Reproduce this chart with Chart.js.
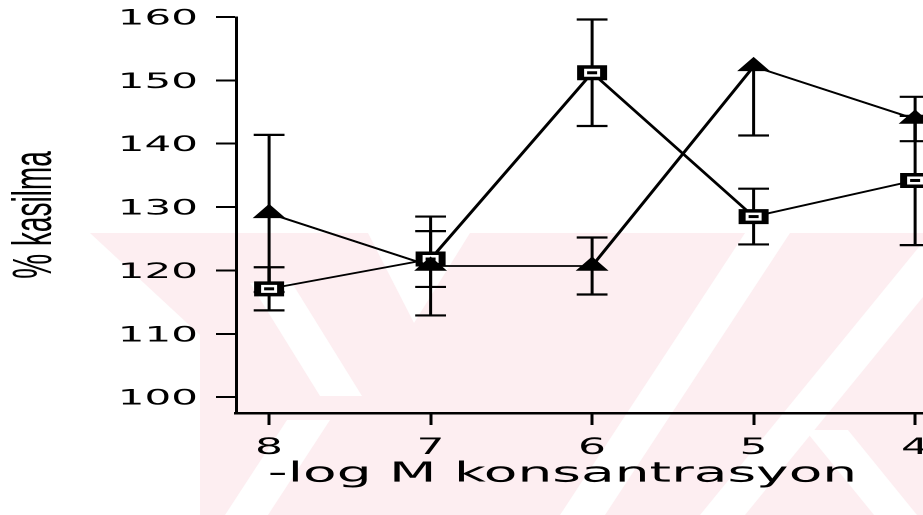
<!DOCTYPE html>
<html>
<head>
<meta charset="utf-8">
<title>% kasilma / -log M konsantrasyon</title>
<script src="https://cdn.jsdelivr.net/npm/chart.js@4.4.1/dist/chart.umd.min.js"></script>
<style>
  html, body { margin: 0; padding: 0; background: #fff; overflow: hidden; width: 923px; height: 515px; }
  /* the plot is laid out at half width and stretched 2x horizontally, like the printed figure */
  #wrap { position: absolute; left: 0; top: 0; width: 462px; height: 515px; transform: scaleX(2); transform-origin: 0 0; }
</style>
</head>
<body>
<div id="wrap"><canvas id="c" width="462" height="515"></canvas></div>
<script>
// -log M concentration on the x axis (read right to left)
const concentrations = [8, 7, 6, 5, 4];
const xTickValues = [8, 7, 6, 5, 4];
const yTickValues = [100, 110, 120, 130, 140, 150, 160];

// triangle series: mean % contraction with error bar lengths
const triangleMeans   = [129.0, 120.7, 120.7, 152.2, 143.9];
const triangleErrUp   = [12.4, 7.8, 4.5, null, 3.5];
const triangleErrDown = [12.4, 7.8, 4.5, 10.9, 3.5];

// square series
const squareMeans   = [117.1, 121.8, 151.2, 128.5, 134.2];
const squareErrUp   = [3.4, 4.4, 8.4, 4.4, 10.2];
const squareErrDown = [3.4, 4.4, 8.4, 4.4, 10.2];

const STRETCH = 2;

// faint stamp in the lower half of the page (page pixels)
const stampPink = [
  [[200,233],[923,233],[923,515],[200,515]],
  [[90,233],[200,233],[200,335]]
];
const stampGaps = [
  [[250,283],[292,283],[362,396],[320,396]],
  [[368,233],[470,233],[414,323]],
  [[225,515],[268,515],[330,420],[287,420]],
  [[560,515],[605,515],[790,233],[745,233]],
  [[700,515],[745,515],[923,297],[923,242]],
  [[805,430],[848,430],[917,515],[874,515]]
];

function poly(ctx, pts) {
  ctx.beginPath();
  pts.forEach(([px, py], i) => i ? ctx.lineTo(px / STRETCH, py) : ctx.moveTo(px / STRETCH, py));
  ctx.closePath();
  ctx.fill();
}

const paper = {
  id: 'paper',
  beforeDraw(chart) {
    const ctx = chart.ctx;
    ctx.save();
    ctx.fillStyle = '#ffffff';
    ctx.fillRect(0, 0, chart.width, chart.height);
    ctx.fillStyle = '#fdeef1';
    stampPink.forEach(p => poly(ctx, p));
    ctx.fillStyle = '#ffffff';
    stampGaps.forEach(p => poly(ctx, p));
    ctx.restore();
  }
};

const errorBars = {
  id: 'errorBars',
  beforeDatasetsDraw(chart) {
    const {ctx, scales: {x, y}} = chart;
    const capHalf = 7.7;
    ctx.save();
    ctx.strokeStyle = '#000';
    ctx.lineCap = 'butt';
    chart.data.datasets.forEach(ds => {
      ds.data.forEach((pt, i) => {
        const px = x.getPixelForValue(pt.x);
        const up = ds.errUp[i];
        const down = ds.errDown[i];
        const yTop = y.getPixelForValue(up == null ? pt.y : pt.y + up);
        const yBot = y.getPixelForValue(down == null ? pt.y : pt.y - down);
        ctx.lineWidth = 1.5;
        ctx.beginPath();
        ctx.moveTo(px, yTop);
        ctx.lineTo(px, yBot);
        ctx.stroke();
        ctx.lineWidth = 2.2;
        ctx.beginPath();
        if (up != null) { ctx.moveTo(px - capHalf, yTop); ctx.lineTo(px + capHalf, yTop); }
        if (down != null) { ctx.moveTo(px - capHalf, yBot); ctx.lineTo(px + capHalf, yBot); }
        ctx.stroke();
      });
    });
    ctx.restore();
  },
  // small bar inside each open square marker
  afterDatasetsDraw(chart) {
    const ctx = chart.ctx;
    ctx.save();
    ctx.fillStyle = '#000';
    chart.data.datasets.forEach((ds, di) => {
      if (ds.pointStyle !== 'rect') return;
      chart.getDatasetMeta(di).data.forEach(el => {
        ctx.fillRect(el.x - 2.5, el.y - 1.5, 5, 3);
      });
    });
    ctx.restore();
  }
};

const toPoints = vals => concentrations.map((c, i) => ({x: c, y: vals[i]}));

new Chart(document.getElementById('c'), {
  type: 'line',
  data: {
    datasets: [
      {
        label: 'Seri 1',
        data: toPoints(triangleMeans),
        errUp: triangleErrUp,
        errDown: triangleErrDown,
        borderColor: '#000',
        borderWidth: 1.8,
        pointStyle: 'triangle',
        pointRadius: 8.5,
        pointBackgroundColor: '#000',
        pointBorderColor: '#000',
        pointBorderWidth: 1,
        tension: 0,
        fill: false
      },
      {
        label: 'Seri 2',
        data: toPoints(squareMeans),
        errUp: squareErrUp,
        errDown: squareErrDown,
        borderColor: '#000',
        borderWidth: 1.8,
        pointStyle: 'rect',
        pointRadius: 8.13,
        pointBackgroundColor: '#fff',
        pointBorderColor: '#000',
        pointBorderWidth: 3.5,
        tension: 0,
        fill: false
      }
    ]
  },
  options: {
    responsive: false,
    devicePixelRatio: 2,
    animation: false,
    layout: { autoPadding: false, padding: { top: 17, left: 0, right: 0, bottom: 0 } },
    plugins: { legend: { display: false }, tooltip: { enabled: false } },
    scales: {
      x: {
        type: 'linear',
        reverse: true,
        min: 3.945,
        max: 8.205,
        afterBuildTicks: s => { s.ticks = xTickValues.map(v => ({value: v})); },
        afterFit: s => { s.height = 102; s.paddingLeft = 0; s.paddingRight = 0; },
        ticks: {
          color: '#000',
          font: { family: 'DejaVu Sans', size: 22 },
          padding: 10,
          maxRotation: 0,
          autoSkip: false,
          callback: v => String(v)
        },
        grid: { drawOnChartArea: false, drawTicks: true, tickLength: 12, tickWidth: 1.5, tickColor: '#000' },
        border: { display: true, color: '#000', width: 2.5 },
        title: {
          display: true,
          // two trailing spaces shift the centred title slightly left
          text: '-log M konsantrasyon  ',
          color: '#000',
          font: { family: 'DejaVu Sans', size: 27.5 },
          padding: { top: 0, bottom: 24 }
        }
      },
      y: {
        min: 97.5,
        max: 160,
        afterBuildTicks: s => { s.ticks = yTickValues.map(v => ({value: v})); },
        afterFit: s => { s.width = 118; s.paddingTop = 0; s.paddingBottom = 0; },
        ticks: {
          color: '#000',
          font: { family: 'DejaVu Sans', size: 21 },
          padding: 9,
          labelOffset: 2
        },
        grid: { drawOnChartArea: false, drawTicks: true, tickLength: 10, tickWidth: 2, tickColor: '#000' },
        border: { display: true, color: '#000', width: 1.5 },
        title: {
          display: true,
          text: '% kasilma',
          color: '#000',
          font: { family: 'Liberation Sans', size: 28 },
          padding: { top: 1, bottom: 0 }
        }
      }
    }
  },
  plugins: [paper, errorBars]
});
</script>
</body>
</html>
